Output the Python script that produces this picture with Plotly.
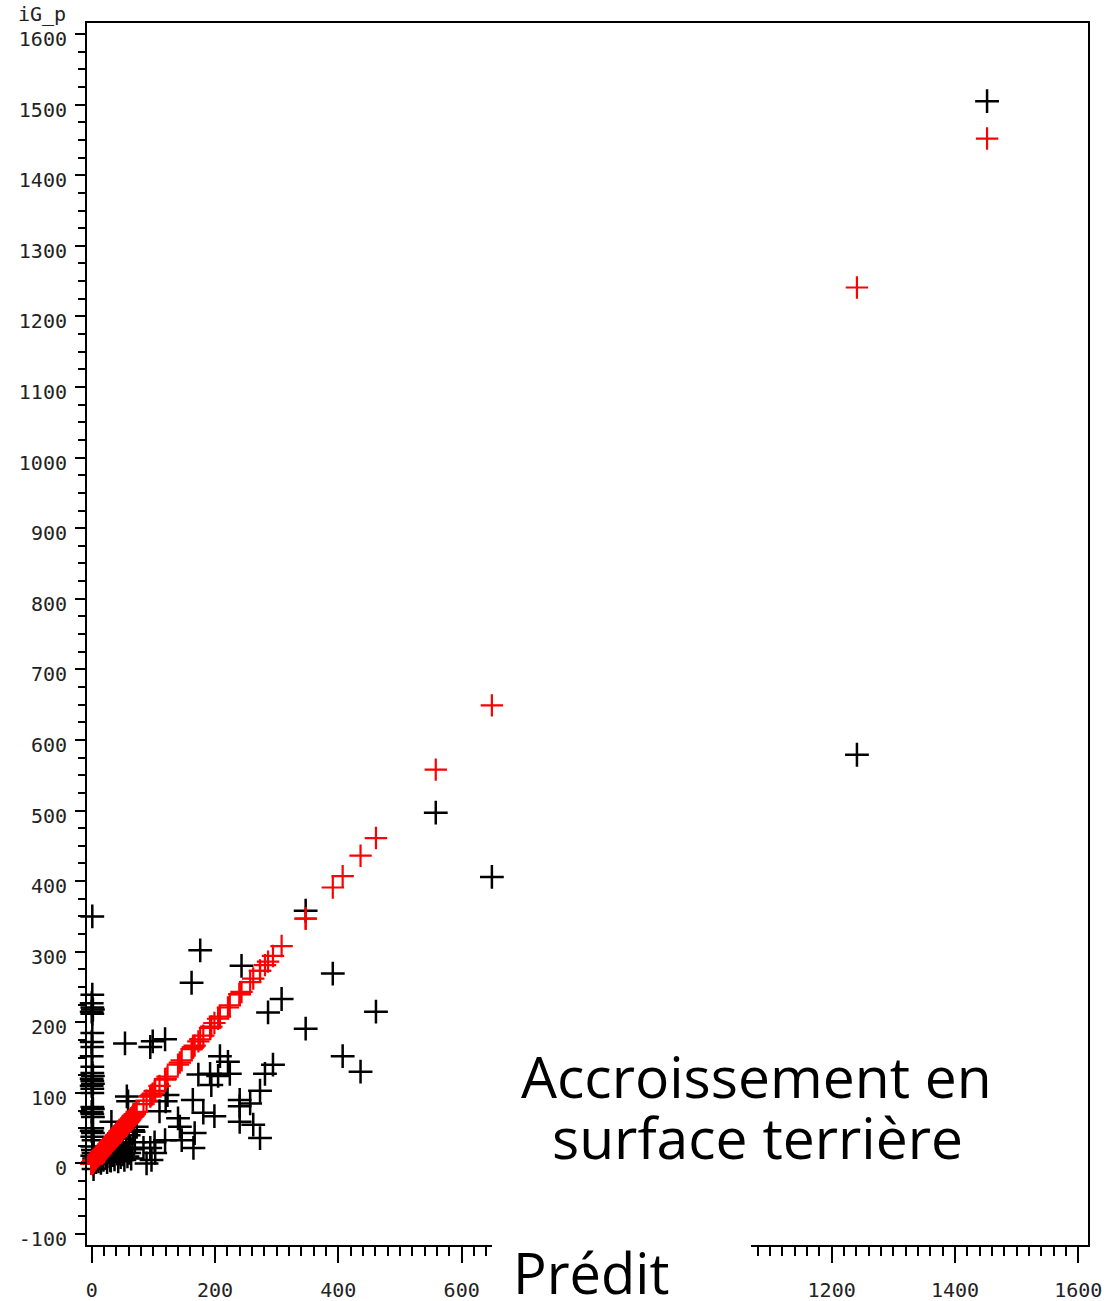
import plotly.graph_objects as go

# ---- data (predicted value, observed value) ----
# column of observations whose prediction is ~0
pred_zero = [1, 1, 0, 1, 2, 0, 1, 1, 0, 1, 0, 1, 1, 2, 0, 1, 2, 0, 1, 1,
             1, 2, 0, 1, 2, 1, 0, 2, 1, 3, 1, 2, 3, 1, 4, 2, 3]
obs_zero = [350, 239, 227, 221, 218, 215, 212, 185, 172, 165, 152, 137, 128, 124, 120, 117, 113, 110, 106, 100,
            80, 77, 73, 70, 66, 50, 46, 43, 38, 33, 24, 19, 15, 11, 7, 0, -8]

# dense cluster near the origin
pred_origin = [3, 5, 7, 9, 11, 13, 15, 17, 19, 21, 23, 25, 27, 29, 31, 33, 35, 37, 39, 41,
               43, 45, 47, 49, 51, 53, 56, 58, 61, 64, 66, 70, 30, 40, 50, 60, 68]
obs_origin = [1, 4, 2, 6, 3, 9, 1, 12, 5, 15, 8, 2, 18, 10, 4, 21, 12, 6, 25, 14,
              3, 19, 9, 28, 13, 5, 22, 10, 15, 7, 20, 30, 22, 28, 35, 40, 45]

# scattered low / mid values
pred_mid = [30, 32, 46, 54, 57, 59, 62, 67, 73, 84, 89, 95, 95, 97, 99, 102, 103, 110, 119, 120,
            119, 123, 140, 143, 146, 162, 164, 165, 167, 173, 176, 181, 192, 194, 199, 205, 208, 221, 224, 240,
            240, 240, 243, 257, 262, 273, 273, 281, 286, 294, 308]
obs_mid = [5, 59, 14, 170, 95, 88, 22, 47, 52, 22, 0, 22, 165, 5, 173, 30, 15, 74, 33, 88,
           176, 97, 64, 52, 33, 256, 90, 22, 43, 126, 302, 72, 127, 111, 67, 124, 152, 144, 127, 90,
           81, 59, 280, 85, 55, 103, 36, 127, 214, 140, 233]

# high values
pred_high = [347, 347, 391, 407, 436, 461, 558, 649, 1241, 1452]
obs_high = [358, 191, 269, 152, 130, 215, 497, 406, 579, 1505]

x_ticks = [0, 200, 400, 600, 800, 1000, 1200, 1400, 1600]
x_ticktext = ["0", "200", "400", "600", "", "", "1200", "1400", "1600"]  # 800/1000 hidden behind the label box
y_ticks = [-100, 0, 100, 200, 300, 400, 500, 600, 700, 800, 900, 1000, 1100, 1200, 1300, 1400, 1500, 1600]
y_ticktext = ["-100"] + [str(v) for v in y_ticks[1:]]
y_title = "iG_p"
x_title = "Prédit"
chart_title = ["Accroissement en", "surface terrière"]

pred = pred_zero + pred_origin + pred_mid + pred_high
obs = obs_zero + obs_origin + obs_mid + obs_high

fig = go.Figure()
fig.add_trace(go.Scatter(
    x=pred, y=obs, mode="markers", name="observé",
    marker=dict(symbol="cross-thin", size=17, color="black",
                line=dict(width=2.5, color="black")),
    cliponaxis=False))
fig.add_trace(go.Scatter(
    x=pred, y=pred, mode="markers", name="prédit",
    marker=dict(symbol="cross-thin", size=16, color="#ff0000",
                line=dict(width=2.2, color="#ff0000")),
    cliponaxis=False))

tickfont = dict(family="DejaVu Sans Mono", size=20, color="#222")
fig.update_layout(
    width=1108, height=1301,
    margin=dict(l=87, r=20, t=23, b=56, pad=0, autoexpand=False),
    plot_bgcolor="white", paper_bgcolor="white",
    showlegend=False,
)
fig.update_xaxes(
    range=[-7.6, 1615.7], showgrid=False, zeroline=False, automargin=False,
    showline=True, linecolor="black", linewidth=2, mirror=True,
    ticks="outside", ticklen=16, tickwidth=2, tickcolor="black",
    tickmode="array", tickvals=x_ticks, ticktext=x_ticktext,
    tickfont=tickfont, ticklabelstandoff=10,
    minor=dict(ticks="outside", dtick=20, tick0=0, ticklen=9, tickwidth=2,
               tickcolor="black", showgrid=False),
)
fig.update_yaxes(
    range=[-115.5, 1615.7], showgrid=False, zeroline=False, automargin=False,
    showline=True, linecolor="black", linewidth=2, mirror=True,
    ticks="outside", ticklen=10, tickwidth=2, tickcolor="black",
    tickmode="array", tickvals=y_ticks, ticktext=y_ticktext,
    tickfont=tickfont, ticklabelstandoff=4, ticklabelshift=5,
    minor=dict(ticks="outside", dtick=25, tick0=0, ticklen=7, tickwidth=2,
               tickcolor="black", showgrid=False),
)

# white box hiding the middle of the x axis (behind the "Prédit" label)
fig.add_shape(type="rect", xref="paper", yref="paper",
              x0=0.4046, x1=0.6633, y0=-0.07, y1=0.0041,
              fillcolor="white", line=dict(width=0), layer="above")

big = dict(family="Open Sans", size=57, color="black")
fig.add_annotation(text=chart_title[0], xref="paper", yref="paper", x=0.6688, y=0.1383,
                   xanchor="center", yanchor="middle", showarrow=False, font=big)
fig.add_annotation(text=chart_title[1], xref="paper", yref="paper", x=0.6698, y=0.0884,
                   xanchor="center", yanchor="middle", showarrow=False, font=big)
fig.add_annotation(text=x_title, xref="paper", yref="paper", x=0.5030, y=-0.0222,
                   xanchor="center", yanchor="middle", showarrow=False,
                   font=dict(family="Open Sans", size=56, color="black"))
fig.add_annotation(text=y_title, xref="paper", yref="paper", x=-0.019, y=1.0075,
                   xanchor="right", yanchor="middle", showarrow=False, font=tickfont)

fig.write_html("out.html", config={"displayModeBar": False},
               post_script="document.body.style.margin='0px';")
